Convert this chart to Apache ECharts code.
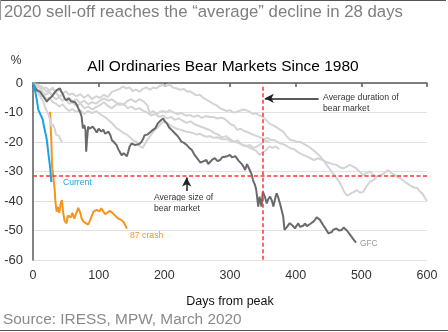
<!DOCTYPE html>
<html>
<head>
<meta charset="utf-8">
<script src="https://cdn.jsdelivr.net/npm/echarts@6/dist/echarts.min.js"></script>
<style>html,body{margin:0;padding:0;background:#fff}#c{width:448px;height:332px}</style>
</head>
<body>
<div id="c"></div>
<script>
// ---- data ----
const xTicks = [0, 100, 200, 300, 400, 500, 600];
const yTicks = [0, -10, -20, -30, -40, -50, -60];
const avgSize = -31.3;      // average size of bear market (%)
const avgDuration = 350;    // average duration of bear market (days)

const current2020 = [[0,0],[2,-1.5],[4,-3.5],[6,-6],[8,-9],[10,-10],[13,-10.3],[15,-12.5],[16,-14],[18,-16],[20,-18],[21,-19.3],[23,-23],[24,-25],[26,-28.4],[27,-31],[28,-33.6]];

const crash87 = [[26,-9.8],[27,-10],[28,-20],[29,-28],[31,-32],[33,-36],[34,-40],[36,-43.6],[38,-42],[40,-44],[42,-41],[44,-39.7],[46,-44],[48,-46.7],[51,-47.6],[53,-45],[56,-44.5],[58,-45.5],[60,-44],[63,-46],[66,-44],[69,-42.3],[72,-44],[74,-45.9],[77,-47],[80,-46.5],[84,-48],[88,-46],[92,-43.6],[97,-43],[101,-43.5],[104,-42.5],[107,-42.8],[110,-44.5],[113,-45],[117,-43.3],[120,-43.9],[123,-44.5],[126,-44.2],[129,-45.8],[132,-45.3],[135,-46.5],[138,-47.2],[140,-48],[143,-49.3]];

const gfc = [[0,0],[3,-1.5],[6,-2.5],[9,-2],[11,-3],[14,-4],[17,-4.5],[21,-6.3],[24,-5.5],[26,-5.6],[29,-4.5],[32,-3.5],[36,-2.4],[39,-2.5],[41,-1.8],[43,-2.8],[46,-4],[48,-5.2],[51,-5.9],[54,-5.2],[56,-5.4],[58,-6.2],[61,-5.8],[64,-6.5],[67,-7.5],[69,-8.6],[72,-10],[74,-11.4],[76,-15.4],[78,-14.2],[80,-16],[81,-23.3],[82,-20],[84,-14.8],[86,-15.5],[89,-16],[91,-14.8],[94,-15.7],[97,-16.8],[100,-15.5],[104,-16.5],[107,-15.8],[110,-17.2],[112,-17.7],[115,-16.5],[118,-17.8],[120,-19.3],[123,-20],[127,-21],[130,-22.5],[132,-23.3],[135,-24.5],[138,-23.8],[140,-24.4],[143,-24.8],[145,-23.3],[147,-21.6],[150,-20.5],[152,-20],[155,-21],[158,-21.6],[161,-20.8],[165,-20],[168,-18.8],[170,-17.7],[174,-17.5],[178,-16.8],[182,-16],[186,-15.4],[190,-13.7],[194,-12.8],[198,-12],[201,-13],[204,-13.7],[207,-15],[211,-15.9],[215,-16.8],[219,-17.7],[222,-18.5],[226,-19.9],[230,-20.3],[234,-21],[238,-22],[242,-22.7],[246,-24.4],[249,-25.2],[252,-26.1],[255,-27],[257,-27.2],[260,-26.5],[264,-26.1],[267,-27.5],[270,-26.7],[273,-26],[277,-25.5],[281,-26.5],[285,-26.1],[288,-25.2],[292,-25],[296,-24.8],[300,-24.4],[303,-25.2],[305,-25.5],[308,-24.8],[310,-25],[313,-26.3],[315,-26.1],[318,-27.5],[321,-28.5],[323,-29.5],[326,-27.5],[328,-27.2],[330,-29.5],[333,-31],[335,-32.9],[338,-34.5],[340,-36.3],[343,-41.9],[345,-38.5],[348,-41.9],[350,-36.8],[353,-38.5],[356,-40.8],[358,-39.5],[361,-38.5],[364,-40],[366,-41.9],[369,-39],[371,-37.4],[373,-38.5],[376,-40.8],[378,-42.5],[381,-45.3],[383,-49.8],[386,-49],[389,-48.7],[391,-47.5],[394,-47],[396,-48.5],[399,-49.3],[401,-48.5],[404,-47.6],[407,-48.8],[409,-49.3],[412,-48.3],[414,-47.6],[417,-48.5],[419,-48.2],[422,-47.8],[425,-47.5],[427,-47],[430,-46.2],[432,-45.5],[435,-46.1],[437,-46.4],[440,-47.5],[442,-48.2],[445,-49.2],[447,-49.8],[450,-51],[452,-51.5],[455,-50.5],[457,-49.8],[460,-49.5],[462,-49.3],[466,-50],[470,-49.8],[473,-49],[475,-49.3],[478,-50],[480,-50.4],[483,-51.5],[485,-52.1],[488,-53],[492,-54.1]];

const other1 = [[0,0],[3,-1],[6,-2.5],[9,-3],[12,-5],[15,-6],[18,-8],[21,-9.5],[24,-11],[26,-12.5],[28,-14.8],[30,-14],[33,-15.4],[35,-17.5],[36,-18.1],[38,-17.1],[40,-18],[41,-18.8],[43,-19.5],[44,-20]];

const other2 = [[0,0],[4,-0.5],[8,-1.5],[12,-1],[16,-2],[20,-1.5],[25,-2.5],[30,-2],[35,-3],[40,-2.2],[45,-3.5],[50,-2.8],[55,-4],[60,-3.5],[66,-4.5],[72,-3.8],[78,-5],[84,-4],[90,-5.5],[96,-4.5],[102,-5],[108,-4],[114,-4.8],[120,-3],[126,-2.5],[132,-2],[137,-1.2],[142,-1.8],[147,-1.5],[152,-2.8],[157,-2.2],[162,-3],[167,-2],[173,-1.5],[178,-2.3],[183,-1.5],[188,-1.8],[193,-1],[198,-0.6],[203,-1],[208,-0.5],[213,-1.5],[218,-1.8],[224,-2.3],[230,-2],[235,-3],[239,-2.8],[244,-3.5],[249,-4.2],[254,-4],[259,-5],[264,-5.6],[269,-6.3],[274,-7],[279,-7.5],[285,-8.6],[290,-9],[295,-9.5],[300,-9.2],[305,-10],[310,-9.8],[315,-9.4],[320,-9],[325,-9.2],[330,-9.8],[335,-10.5],[340,-10.3],[345,-11],[350,-11.5],[355,-12.5],[360,-13.8],[366,-14.4],[371,-15],[376,-15.8],[381,-16.5],[386,-18],[392,-19.3],[397,-19.5],[402,-20],[406,-19.9],[411,-20.5],[417,-21.2],[423,-22.1],[428,-23],[433,-24],[438,-25],[443,-26.5],[448,-28],[453,-29.5],[458,-31],[463,-32.5],[468,-34],[473,-36.5],[478,-38.2],[483,-37.6],[488,-37],[493,-36.3],[498,-37.2],[503,-36.9],[508,-35],[513,-33.5],[518,-33],[523,-32]];

const other3 = [[0,0],[4,-1.5],[8,-2.5],[12,-2],[16,-3.5],[20,-4],[25,-3],[30,-4.5],[35,-5.5],[40,-4.8],[45,-6],[50,-5.5],[55,-7],[60,-6.5],[66,-7.8],[72,-7],[78,-8.5],[84,-8],[90,-9],[96,-8.2],[102,-7.5],[108,-6.5],[114,-7.8],[120,-8.5],[126,-7.5],[132,-6.8],[138,-7.5],[144,-6],[150,-5.5],[156,-6.5],[162,-5.5],[168,-6.2],[174,-7.5],[178,-10.3],[183,-9.5],[188,-10.5],[193,-9.8],[198,-9.5],[203,-10],[208,-9.2],[214,-10],[220,-10.5],[226,-10.2],[232,-11],[239,-10.9],[245,-11.5],[251,-11],[257,-11.8],[263,-11.2],[269,-11.5],[275,-11.5],[280,-12],[286,-11.8],[291,-12],[296,-13],[301,-14],[306,-14.4],[311,-15.9],[316,-15.5],[321,-16.2],[327,-16.7],[335,-17.5],[341,-18],[347,-18.5],[352,-19],[357,-18.6],[362,-19.3],[367,-19.3],[372,-20],[377,-20.5],[382,-20.8],[387,-21.5],[392,-22.1],[398,-22.5],[404,-23.5],[410,-24.2],[416,-24.8],[422,-25.5],[428,-26.1],[434,-25.5],[440,-26],[446,-26.7],[452,-27.2],[457,-27.5],[462,-27.7],[467,-28.5],[472,-28.9],[477,-28.5],[482,-27.7],[487,-28.3],[492,-28.9],[497,-30],[503,-31.2],[508,-30.5],[513,-30],[518,-31],[523,-31.8],[529,-31.2],[535,-30.6],[541,-29.5],[546,-30.5],[551,-31.2],[556,-32],[561,-32.5],[566,-33.5],[571,-34.2],[576,-35],[581,-35.5],[585,-35.5],[589,-36.8],[593,-37.5],[597,-39],[600,-40]];

const other4 = [[0,0],[4,-2],[8,-3],[12,-4.5],[16,-4],[20,-5.5],[25,-5],[30,-6.5],[35,-7],[40,-8],[45,-7.2],[50,-8.5],[55,-9.5],[60,-8.8],[66,-9.8],[72,-9.2],[78,-10.5],[84,-9.5],[90,-10.2],[96,-9.5],[102,-10.5],[107,-11.2],[112,-11.9],[117,-13],[122,-14],[127,-15.3],[132,-16],[137,-16.8],[143,-17.5],[148,-18.5],[153,-19.5],[158,-20],[163,-21.5],[167,-22],[171,-20.5],[175,-19],[180,-17.5],[185,-16],[190,-15],[194,-14],[198,-13.2],[203,-13.5],[208,-14.2],[214,-15],[219,-15.5],[224,-15.8],[229,-16.2],[234,-16.5],[239,-16.7],[244,-17],[249,-17.5],[254,-17.2],[259,-17.8],[264,-18.2],[270,-18],[275,-18.6],[280,-18.4],[285,-18.8],[290,-19.2],[295,-19],[300,-19.6],[305,-19.8],[310,-20.1],[315,-20.5],[320,-21],[325,-21.3],[330,-22],[335,-22.5],[340,-23],[345,-24.4],[350,-23.5],[355,-22.7],[360,-21.5],[365,-22],[370,-21.5],[375,-22.5]];

const other5 = [[0,0],[4,-1],[8,-0.5],[12,-2],[16,-1.5],[20,-3],[25,-2.5],[30,-1.5],[35,-3.5],[40,-4.5],[45,-4],[50,-5.5],[55,-5],[60,-6.2],[66,-5.5],[72,-6.8],[78,-6],[84,-7.2],[90,-6.5],[96,-7],[102,-6],[108,-5.2],[114,-6],[120,-5.5],[126,-6.5],[132,-7.5],[138,-7],[144,-8.5],[150,-8],[156,-9],[162,-8.5],[168,-9.5],[174,-10],[180,-11],[186,-10.5],[192,-11.5],[198,-11],[204,-12],[210,-11.5],[216,-12.5],[222,-12],[228,-12.8],[234,-13.5],[240,-13],[246,-14],[252,-14.5],[258,-15],[264,-15.5],[270,-16],[276,-17],[282,-17.5],[288,-18.5],[294,-18],[300,-19],[306,-20],[312,-19.5],[318,-21],[324,-21.5],[330,-21],[336,-22],[342,-21.5],[348,-20.5],[354,-19.5],[360,-20]];

// ---- chart ----
const FONT = 'Liberation Sans, Arial, Helvetica, sans-serif';
const LIGHT = '#d4d4d4';
const chart = echarts.init(document.getElementById('c'), null, {renderer: 'canvas'});

function lineSeries(name, data, color, z) {
  return {
    name, type: 'line', data, showSymbol: false, symbol: 'none', z,
    lineStyle: {color, width: 2}, silent: true
  };
}

const redDash = {color: '#ff3333', width: 1.5, type: [4, 2.5]};
const blackArrow = {color: '#222', width: 1.5, type: 'solid'};

const text = (t, x, y, size, color, align, extra) => Object.assign({
  type: 'text', x, y, silent: true,
  style: {text: t, fontSize: size, fontFamily: FONT, fill: color, align: align || 'left', verticalAlign: 'middle'}
}, extra || {});

chart.setOption({
  animation: false,
  grid: {left: 33, right: 21, top: 83, bottom: 72},
  xAxis: {
    type: 'value', min: xTicks[0], max: xTicks[xTicks.length - 1], interval: 100,
    axisLine: {lineStyle: {color: '#5a5a5a', width: 1.5}},
    axisTick: {show: true, length: 4, lineStyle: {color: '#5a5a5a', width: 1.5}},
    splitLine: {show: false},
    axisLabel: {color: '#333', fontSize: 12.5, fontFamily: FONT, margin: 9},
    name: 'Days from peak', nameLocation: 'middle', nameGap: 35,
    nameTextStyle: {color: '#111', fontSize: 12.5, fontFamily: FONT}
  },
  yAxis: {
    type: 'value', min: yTicks[yTicks.length - 1], max: yTicks[0], interval: 10,
    axisLine: {show: true, onZero: false, lineStyle: {color: '#5a5a5a', width: 1.5}},
    axisTick: {show: false},
    splitLine: {lineStyle: {color: '#e2e2e2', width: 1}},
    axisLabel: {color: '#333', fontSize: 13, fontFamily: FONT, margin: 10}
  },
  series: [
    lineSeries('87 crash', crash87, '#f7941d', 2),
    lineSeries('b1', other1, LIGHT, 3),
    lineSeries('b2', other2, LIGHT, 3),
    lineSeries('b3', other3, LIGHT, 3),
    lineSeries('b4', other4, LIGHT, 3),
    lineSeries('b5', other5, LIGHT, 3),
    lineSeries('GFC', gfc, '#6a6a6a', 4),
    Object.assign(lineSeries('Current', current2020, '#1aa3e6', 5), {
      markLine: {
        silent: true, animation: false, symbol: ['none', 'none'], label: {show: false},
        data: [
          [{coord: [0, avgSize], lineStyle: redDash}, {coord: [600, avgSize]}],
          [{coord: [avgDuration, -1.3], lineStyle: redDash}, {coord: [avgDuration, -60]}],
          [{coord: [435, -5.2], symbol: 'none', lineStyle: blackArrow}, {coord: [353, -5.2], symbol: 'arrow', symbolSize: [7, 9]}],
          [{coord: [234, -36.6], symbol: 'none', lineStyle: blackArrow}, {coord: [234, -32], symbol: 'arrow', symbolSize: [7, 9]}]
        ]
      }
    })
  ],
  graphic: [
    {type: 'line', shape: {x1: 0, y1: 0.5, x2: 446, y2: 0.5}, style: {stroke: '#555', lineWidth: 1}, silent: true},
    {type: 'line', shape: {x1: 0.5, y1: 0, x2: 0.5, y2: 20}, style: {stroke: '#999', lineWidth: 1}, silent: true},
    {type: 'line', shape: {x1: 0, y1: 330.5, x2: 448, y2: 330.5}, style: {stroke: '#555', lineWidth: 1}, silent: true},
    text('2020 sell-off reaches the \u201caverage\u201d decline in 28 days', 4, 12, 16.8, '#7f7f7f'),
    text('All Ordinaries Bear Markets Since 1980', 223, 67, 15.5, '#000', 'center'),
    text('%', 16, 61, 12, '#333', 'center'),
    text('Average duration of', 323, 97.5, 8.7, '#333'),
    text('bear market', 323, 108.5, 8.7, '#333'),
    text('Average size of', 154, 198, 8.6, '#333'),
    text('bear market', 154, 209, 8.6, '#333'),
    text('Current', 63, 183, 8.6, '#1aa3e6'),
    text('87 crash', 130, 236, 8.7, '#f7941d'),
    text('GFC', 360, 243.5, 8.3, '#999'),
    text('Source: IRESS, MPW, March 2020', 3, 320, 15.4, '#8a8a8a')
  ]
});
</script>
</body>
</html>
